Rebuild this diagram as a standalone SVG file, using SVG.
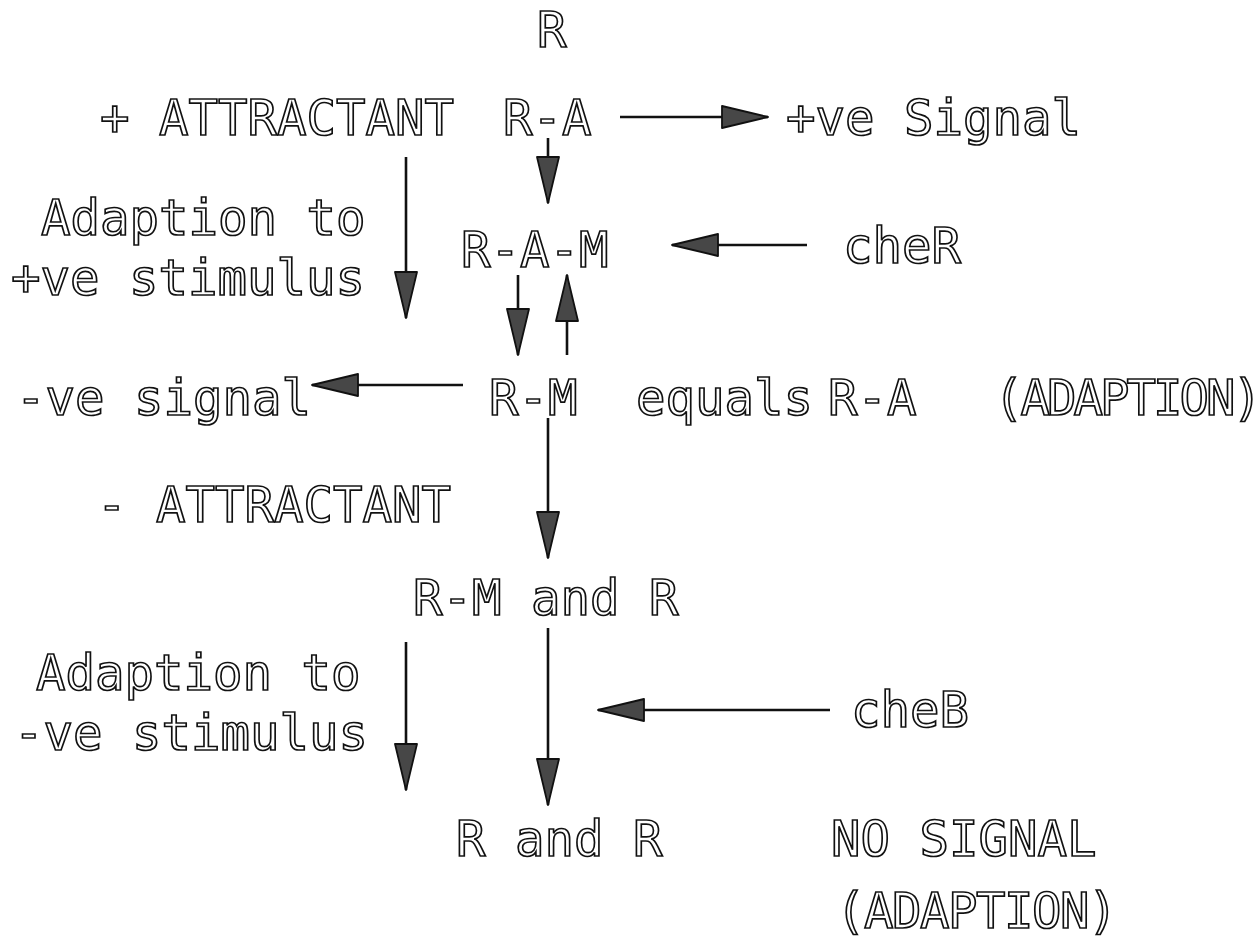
<svg xmlns="http://www.w3.org/2000/svg" width="1260" height="943" viewBox="0 0 1260 943">
<style>
  .t { font-family: "DejaVu Sans Mono", "Liberation Mono", monospace; font-size: 49px; fill: #ffffff; stroke: #111111; stroke-width: 1.7; }
  .c { stroke: #111111; stroke-width: 2.6; fill: none; }
</style>
<defs>
  <marker id="ah" markerUnits="userSpaceOnUse" markerWidth="52" markerHeight="28" refX="47" refY="13" orient="auto" overflow="visible">
    <path d="M1,2 L47,13 L1,24 Z" fill="#474747" stroke="#111111" stroke-width="1.8" stroke-linejoin="round"/>
  </marker>
</defs>
<rect width="1260" height="943" fill="#ffffff"/>
<g id="connectors">
  <line class="c" x1="620" y1="117" x2="768" y2="117" marker-end="url(#ah)"/>
  <line class="c" x1="406" y1="157" x2="406" y2="318" marker-end="url(#ah)"/>
  <line class="c" x1="548" y1="138" x2="548" y2="203" marker-end="url(#ah)"/>
  <line class="c" x1="807" y1="245" x2="672" y2="245" marker-end="url(#ah)"/>
  <line class="c" x1="518" y1="275" x2="518" y2="355" marker-end="url(#ah)"/>
  <line class="c" x1="567" y1="355" x2="567" y2="275" marker-end="url(#ah)"/>
  <line class="c" x1="463" y1="385" x2="312" y2="385" marker-end="url(#ah)"/>
  <line class="c" x1="548" y1="418" x2="548" y2="558" marker-end="url(#ah)"/>
  <line class="c" x1="406" y1="642" x2="406" y2="790" marker-end="url(#ah)"/>
  <line class="c" x1="548" y1="628" x2="548" y2="805" marker-end="url(#ah)"/>
  <line class="c" x1="830" y1="710" x2="598" y2="710" marker-end="url(#ah)"/>
</g>
<g id="n-R"><text class="t" x="537" y="47">R</text></g>
<g id="n-plus-attractant"><text class="t" x="100" y="135">+ ATTRACTANT</text></g>
<g id="n-RA"><text class="t" x="503" y="135">R-A</text></g>
<g id="n-pos-signal"><text class="t" x="786" y="135">+ve Signal</text></g>
<g id="n-adapt-pos"><text class="t" x="41" y="235">Adaption to</text><text class="t" x="11" y="295">+ve stimulus</text></g>
<g id="n-RAM"><text class="t" x="461" y="267">R-A-M</text></g>
<g id="n-cheR"><text class="t" x="843" y="263">cheR</text></g>
<g id="n-neg-signal"><text class="t" x="16" y="415">-ve signal</text></g>
<g id="n-RM"><text class="t" x="489" y="415">R-M</text></g>
<g id="n-equals"><text class="t" x="636" y="415">equals<tspan x="828">R-A</tspan></text></g>
<g id="n-adaption1"><text class="t" x="994" y="415" letter-spacing="-3">(ADAPTION)</text></g>
<g id="n-minus-attractant"><text class="t" x="97" y="522">- ATTRACTANT</text></g>
<g id="n-RM-and-R"><text class="t" x="413" y="615">R-M and R</text></g>
<g id="n-adapt-neg"><text class="t" x="36" y="690">Adaption to</text><text class="t" x="14" y="750">-ve stimulus</text></g>
<g id="n-cheB"><text class="t" x="851" y="727">cheB</text></g>
<g id="n-R-and-R"><text class="t" x="456" y="856">R and R</text></g>
<g id="n-no-signal"><text class="t" x="831" y="856">NO SIGNAL</text><text class="t" x="836" y="928" letter-spacing="-1.5">(ADAPTION)</text></g>
</svg>
